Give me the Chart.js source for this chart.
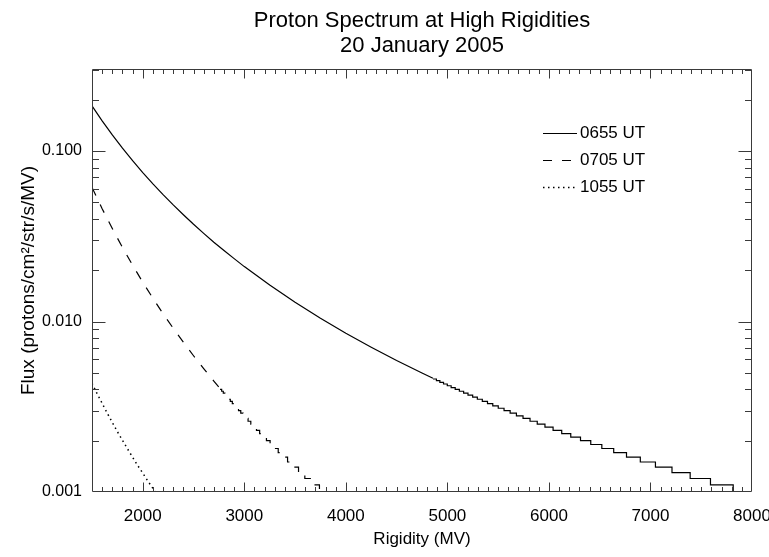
<!DOCTYPE html>
<html>
<head>
<meta charset="utf-8">
<script src="https://cdn.jsdelivr.net/npm/chart.js@4"></script>
<style>
  html, body { margin: 0; padding: 0; background: #fff; }
  #wrap { width: 769px; height: 557px; }
</style>
</head>
<body>
<div id="wrap"><canvas id="spectrumChart" width="769" height="557"></canvas></div>
<script>
// rigidity in MV, flux in protons/cm^2/str/s/MV
const rigidity0655 = [1500, 1600, 1700, 1800, 1900, 2000, 2100, 2200, 2300, 2400, 2500, 2600,
  2700, 2800, 2900, 3000, 3250, 3500, 3750, 4000, 4250, 4500, 4750, 4858];
const flux0655 = [0.184, 0.1504, 0.1244, 0.1040, 0.0878, 0.0748, 0.0642, 0.0555, 0.0483, 0.0423,
  0.0372, 0.0329, 0.0292, 0.0261, 0.0234, 0.0210, 0.01636, 0.01297, 0.01045, 0.00854, 0.00707,
  0.00591, 0.00499, 0.00465];
// low fluxes come in steps of 0.0001: rigidity where each new level starts
const stepRigidity0655 = [4858, 4892, 4926, 4962, 4999, 5037, 5077, 5118, 5160, 5203, 5249, 5295,
  5344, 5395, 5447, 5501, 5558, 5618, 5680, 5745, 5814, 5885, 5961, 6041, 6126, 6215, 6311, 6412,
  6521, 6638, 6764, 6900, 7049, 7212, 7391, 7591, 7815, 7880];
const stepFlux0655 = [0.0046, 0.0045, 0.0044, 0.0043, 0.0042, 0.0041, 0.0040, 0.0039, 0.0038,
  0.0037, 0.0036, 0.0035, 0.0034, 0.0033, 0.0032, 0.0031, 0.0030, 0.0029, 0.0028, 0.0027, 0.0026,
  0.0025, 0.0024, 0.0023, 0.0022, 0.0021, 0.0020, 0.0019, 0.0018, 0.0017, 0.0016, 0.0015, 0.0014,
  0.0013, 0.0012, 0.0011, 0.0010, 0.0010];

const rigidity0705 = [1500, 1600, 1700, 1800, 1900, 2000, 2100, 2200, 2300, 2400, 2500, 2600,
  2700, 2761];
const flux0705 = [0.0612, 0.0459, 0.0351, 0.0272, 0.0214, 0.0170, 0.0137, 0.0111, 0.00913,
  0.00756, 0.00630, 0.00529, 0.00447, 0.00405];
const stepRigidity0705 = [2761, 2777, 2793, 2809, 2827, 2844, 2862, 2882, 2901, 2922, 2943, 2965,
  2988, 3012, 3037, 3064, 3091, 3120, 3151, 3183, 3218, 3254, 3293, 3334, 3379, 3426, 3478, 3534,
  3596, 3664, 3740, 3825];
const stepFlux0705 = [0.0040, 0.0039, 0.0038, 0.0037, 0.0036, 0.0035, 0.0034, 0.0033, 0.0032,
  0.0031, 0.0030, 0.0029, 0.0028, 0.0027, 0.0026, 0.0025, 0.0024, 0.0023, 0.0022, 0.0021, 0.0020,
  0.0019, 0.0018, 0.0017, 0.0016, 0.0015, 0.0014, 0.0013, 0.0012, 0.0011, 0.0010, 0.0009];

const rigidity1055 = [1500, 1550, 1600, 1650, 1700, 1750, 1800, 1850, 1900, 1950, 2000, 2050,
  2100, 2150];
const flux1055 = [0.00434, 0.00378, 0.00331, 0.00290, 0.00256, 0.00226, 0.00201, 0.00179,
  0.00160, 0.00143, 0.00129, 0.00116, 0.00105, 0.00095];

const seriesNames = ["0655 UT", "0705 UT", "1055 UT"];
const xTicks = [2000, 3000, 4000, 5000, 6000, 7000, 8000];
const yTicks = [0.001, 0.01, 0.1];
const yTickLabels = ["0.001", "0.010", "0.100"];
const titleLines = ["Proton Spectrum at High Rigidities", "20 January 2005"];

const FONT = '"Liberation Sans", Arial, Helvetica, sans-serif';
const dashes = [[], [9, 10], [1.5, 3.5]];

function points(xs, ys) {
  return xs.map((v, i) => ({ x: v, y: ys[i] }));
}

function lineSet(label, xs, ys, style, stepped) {
  return {
    label: label,
    data: points(xs, ys),
    borderColor: "#000",
    borderWidth: style === 2 ? 1.5 : 1.2,
    borderDash: dashes[style],
    pointRadius: 0,
    fill: false,
    tension: 0,
    stepped: stepped ? "before" : false
  };
}

// box round the plot with inward ticks on all four sides
const frameTicks = {
  id: "frameTicks",
  afterDatasetsDraw(chart) {
    const { ctx, chartArea: a, scales: { x, y } } = chart;
    const L = Math.round(a.left) + 0.5, R = Math.round(a.right) - 0.5;
    const T = Math.round(a.top) + 0.5, B = Math.round(a.bottom) - 0.5;
    ctx.save();
    ctx.strokeStyle = "#3a3a3a";
    ctx.lineWidth = 1;
    ctx.beginPath();
    ctx.rect(L, T, R - L, B - T);
    for (let v = 1600; v < 8000; v += 100) {
      const px = Math.round(x.getPixelForValue(v)) + 0.5;
      const len = v % 1000 === 0 ? 9 : 4.5;
      ctx.moveTo(px, B); ctx.lineTo(px, B - len);
      ctx.moveTo(px, T); ctx.lineTo(px, T + len);
    }
    yTicks.forEach(decade => {
      for (let m = 1; m <= 9; m++) {
        const v = decade * m;
        if (v > y.max || (m === 1 && decade === yTicks[0])) continue;
        const py = Math.round(y.getPixelForValue(v)) + 0.5;
        const len = m === 1 ? 13 : 6.5;
        ctx.moveTo(L, py); ctx.lineTo(L + len, py);
        ctx.moveTo(R, py); ctx.lineTo(R - len, py);
      }
    });
    ctx.stroke();
    ctx.restore();
  }
};

const titleAndLegend = {
  id: "titleAndLegend",
  afterDraw(chart) {
    const { ctx, chartArea: a } = chart;
    ctx.save();
    ctx.fillStyle = "#000";
    ctx.textAlign = "center";
    ctx.textBaseline = "middle";
    ctx.font = "22px " + FONT;
    const cx = (a.left + a.right) / 2;
    ctx.fillText(titleLines[0], cx, 21);
    ctx.fillText(titleLines[1], cx, 46);

    ctx.font = "17px " + FONT;
    ctx.textAlign = "left";
    seriesNames.forEach((name, i) => {
      const yy = 133 + i * 27;
      ctx.save();
      ctx.strokeStyle = "#000";
      ctx.lineWidth = i === 2 ? 1.5 : 1.2;
      ctx.setLineDash(dashes[i]);
      ctx.beginPath();
      ctx.moveTo(543, yy + 0.5);
      ctx.lineTo(577, yy + 0.5);
      ctx.stroke();
      ctx.restore();
      ctx.fillText(name, 580, yy);
    });
    ctx.restore();
  }
};

const chart = new Chart(document.getElementById("spectrumChart"), {
  type: "line",
  data: {
    datasets: [
      lineSet(seriesNames[0], rigidity0655, flux0655, 0, false),
      lineSet(seriesNames[0], stepRigidity0655, stepFlux0655, 0, true),
      lineSet(seriesNames[1], rigidity0705, flux0705, 1, false),
      lineSet(seriesNames[1], stepRigidity0705, stepFlux0705, 1, true),
      lineSet(seriesNames[2], rigidity1055, flux1055, 2, false)
    ]
  },
  options: {
    responsive: false,
    animation: false,
    devicePixelRatio: 1,
    layout: { padding: { top: 69, right: 17, left: 0, bottom: 0 } },
    plugins: {
      legend: { display: false },
      title: { display: false },
      tooltip: { enabled: false }
    },
    scales: {
      x: {
        type: "linear",
        min: 1500,
        max: 8000,
        grid: { display: false, drawTicks: false },
        border: { display: false },
        afterBuildTicks: scale => { scale.ticks = xTicks.map(v => ({ value: v })); },
        afterFit: scale => { scale.height = 65; scale.paddingLeft = 0; scale.paddingRight = 0; },
        ticks: {
          padding: 14,
          maxRotation: 0,
          color: "#000",
          font: { family: FONT, size: 17 },
          callback: v => String(v)
        },
        title: {
          display: true,
          text: "Rigidity (MV)",
          color: "#000",
          font: { family: FONT, size: 17 },
          padding: { top: 0, bottom: 7 }
        }
      },
      y: {
        type: "logarithmic",
        min: 0.001,
        max: 0.303,
        grid: { display: false, drawTicks: false },
        border: { display: false },
        afterBuildTicks: scale => { scale.ticks = yTicks.map(v => ({ value: v })); },
        afterFit: scale => { scale.width = 92; scale.paddingTop = 0; scale.paddingBottom = 0; },
        ticks: {
          padding: 10,
          color: "#000",
          font: { family: FONT, size: 16 },
          callback: v => yTickLabels[yTicks.indexOf(v)] || ""
        },
        title: {
          display: true,
          text: "Flux (protons/cm\u00b2/str/s/MV)",
          color: "#000",
          font: { family: FONT, size: 19 },
          padding: { top: 17, bottom: 0 }
        }
      }
    }
  },
  plugins: [frameTicks, titleAndLegend]
});
</script>
</body>
</html>
